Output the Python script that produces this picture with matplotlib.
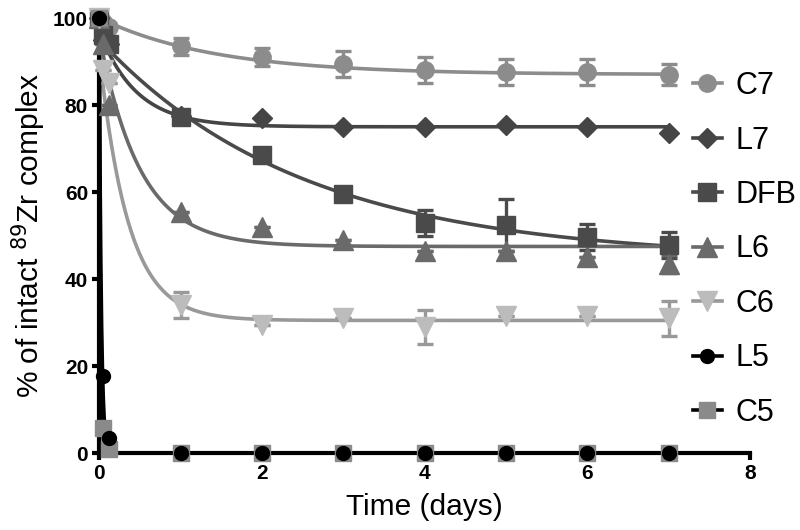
import numpy as np
import matplotlib
matplotlib.use("Agg")
import matplotlib.pyplot as plt
from matplotlib.lines import Line2D

plt.rcParams["font.family"] = ["Liberation Sans", "DejaVu Sans"]

# sampling times (days): 0, 1 h, 3 h, then daily
days = [0, 0.042, 0.125, 1, 2, 3, 4, 5, 6, 7]

C7 = [100, 99, 98, 93.5, 91, 89.5, 88, 87.5, 87.5, 87]
L7 = [100, 95, 94, 77.5, 77, 75, 75, 75.5, 75, 73.5]
DFB = [100, 96, 94, 77.2, 68.5, 59.5, 52.8, 52.4, 49.7, 47.8]
L6 = [100, 94, 80, 55.5, 52, 49, 46.5, 46.5, 45, 43.5]
C6 = [100, 88, 85, 34, 29.5, 31, 29, 31.5, 31.5, 31]
L5 = [100, 17.7, 3.4, 0, 0, 0, 0, 0, 0, 0]
C5 = [100, 5.7, 1, 0, 0, 0, 0, 0, 0, 0]

C7_err = [0, 0, 0, 2, 2, 3, 3, 3, 3, 2.5]
DFB_err = [0, 0, 0, 0, 0, 0, 3, 6, 3, 3]
L6_err = [0, 0, 0, 0, 0, 0, 0, 0, 0, 2]
C6_err = [0, 0, 0, 3, 0, 0, 4, 0, 0, 4]

# one-phase decay fit: (plateau, y0, k per day)
C7_fit = (87, 100, 0.7)
L7_fit = (75, 97, 2.2)
DFB_fit = (44.5, 95, 0.4)
L6_fit = (47.5, 96, 2.0)
C6_fit = (30.5, 92, 2.8)
L5_fit = (0, 100, 41)
C5_fit = (0, 100, 68)

names = ["C7", "L7", "DFB", "L6", "C6", "L5", "C5"]

fig = plt.figure(figsize=(8, 5.3), dpi=100)
ax = fig.add_axes([0.124, 0.145, 0.8135, 0.821])

t = np.linspace(0, 7, 1400)

def curve(fit):
    p, y0, k = fit
    return p + (y0 - p) * np.exp(-k * t)

series = {
    "C7": (C7, C7_err, C7_fit, "o", 12.5, "#8c8c8c", "#8c8c8c"),
    "L7": (L7, None, L7_fit, "D", 10.5, "#454545", "#454545"),
    "DFB": (DFB, DFB_err, DFB_fit, "s", 12.5, "#4a4a4a", "#4a4a4a"),
    "L6": (L6, L6_err, L6_fit, "^", 14.5, "#6a6a6a", "#6a6a6a"),
    "C6": (C6, C6_err, C6_fit, "v", 14.5, "#bcbcbc", "#999999"),
    "C5": (C5, None, C5_fit, "s", 11, "#8a8a8a", "#000000"),
    "L5": (L5, None, L5_fit, "o", 10, "#000000", "#000000"),
}

for nm, (vals, err, fit, mk, ms, mc, lc) in series.items():
    ax.plot(t, curve(fit), color=lc, lw=2.6, clip_on=False, zorder=2)
    if err is not None:
        ax.errorbar(days, vals, yerr=err, fmt="none", ecolor=lc, elinewidth=2.4,
                    capsize=6, capthick=2.4, clip_on=False, zorder=3)
    ax.plot(days, vals, ls="none", marker=mk, ms=ms, color=mc, mec=mc,
            clip_on=False, zorder=4)

ax.set_xlim(0, 8)
ax.set_ylim(0, 100)
ax.set_xticks([0, 2, 4, 6, 8])
ax.set_yticks([0, 20, 40, 60, 80, 100])
for s in ["top", "right"]:
    ax.spines[s].set_visible(False)
for s in ["left", "bottom"]:
    ax.spines[s].set_linewidth(3)
ax.tick_params(width=3, length=5, labelsize=15, direction="out", pad=3)
for lab in ax.get_xticklabels() + ax.get_yticklabels():
    lab.set_fontweight("bold")

ax.set_xlabel("Time (days)", fontsize=21.5, labelpad=7)
ax.set_ylabel("% of intact $^{89}$Zr complex", fontsize=21.5, labelpad=4)

handles = []
for nm in names:
    vals, err, fit, mk, ms, mc, lc = series[nm]
    handles.append(Line2D([], [], color=lc, lw=2.6, marker=mk, ms=ms, mfc=mc, mec=mc, label=nm))
ax.legend(handles=handles, loc="upper left", bbox_to_anchor=(0.912, 0.878), frameon=False,
          fontsize=22, handlelength=0.95, labelspacing=0.8, handletextpad=0.45,
          borderpad=0, borderaxespad=0)

fig.savefig("out.png", dpi=100)
